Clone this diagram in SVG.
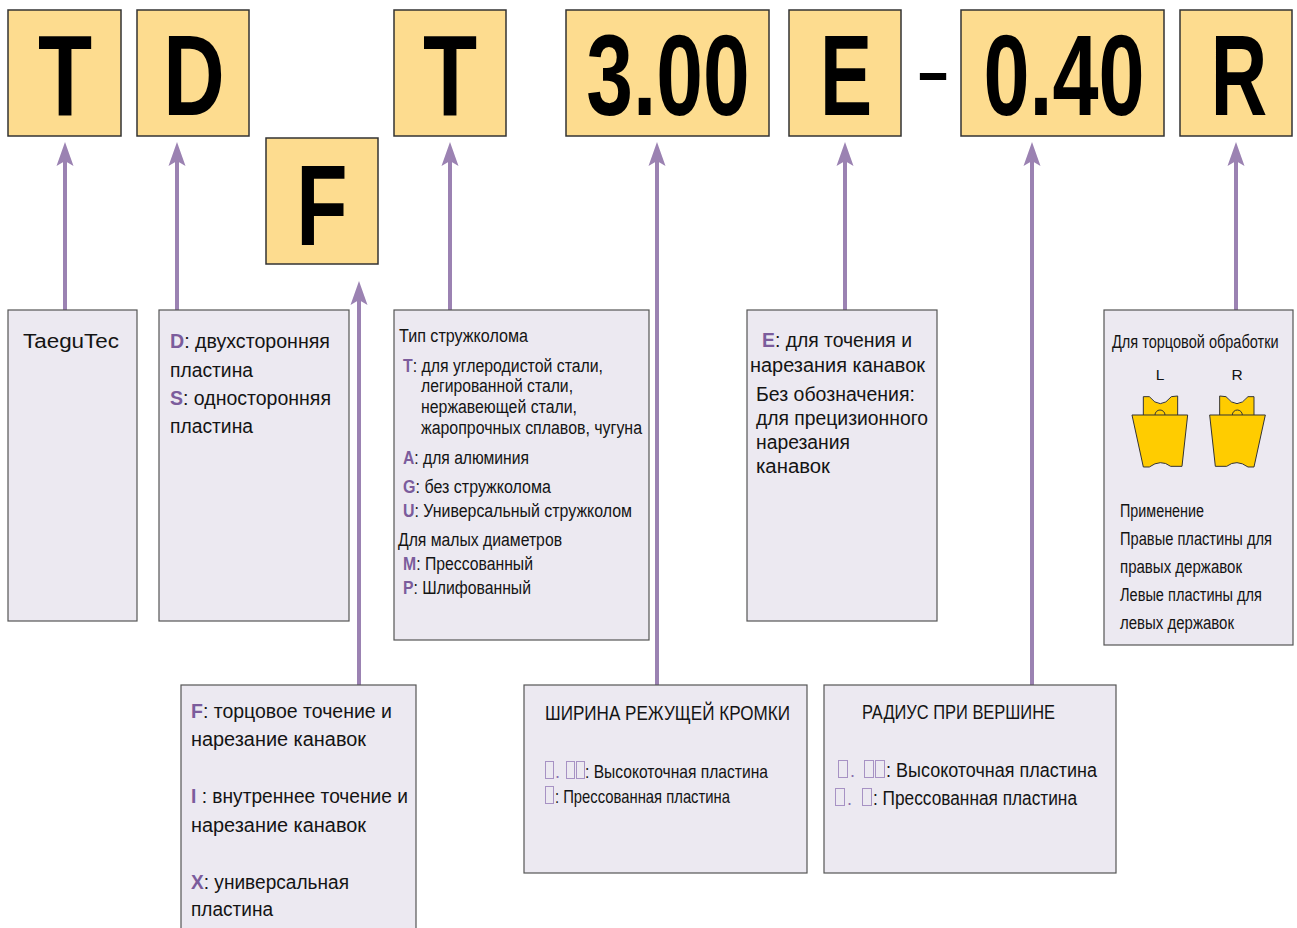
<svg xmlns="http://www.w3.org/2000/svg" width="1297" height="928" viewBox="0 0 1297 928">
<defs>
<style>
.top{fill:#fddc8f;stroke:#333;stroke-width:1.5}
.box{fill:#ece9f1;stroke:#555;stroke-width:1.2}
.big{font-family:"Liberation Sans",Arial,sans-serif;font-weight:bold;font-size:115px;fill:#000}
.t{font-family:"Liberation Sans",Arial,sans-serif;font-size:20px;fill:#141414}
.c{font-family:"Liberation Sans",Arial,sans-serif;font-size:18px;fill:#141414}
.k{fill:#7b5c9c;font-weight:bold}
.kd{fill:#8a6fae}
.tofu{fill:none;stroke:#a792c4;stroke-width:1}
.arr{stroke:#9b82b2;stroke-width:4;fill:none;marker-end:url(#ah)}
.ins{fill:#ffcc00;stroke:#333;stroke-width:3}
</style>
<marker id="ah" markerUnits="userSpaceOnUse" markerWidth="26" markerHeight="20" viewBox="0 0 26 20" refX="16" refY="10" orient="auto">
<path d="M0,1.5 L24,10 L0,18.5 L5,10 Z" fill="#9b82b2"/>
</marker>
</defs>
<rect width="1297" height="928" fill="#fff"/>

<g id="connectors">
<line class="arr" x1="65" y1="310" x2="65" y2="150"/>
<line class="arr" x1="177" y1="310" x2="177" y2="150"/>
<line class="arr" x1="359" y1="685" x2="359" y2="289"/>
<line class="arr" x1="450" y1="310" x2="450" y2="150"/>
<line class="arr" x1="657" y1="685" x2="657" y2="150"/>
<line class="arr" x1="845" y1="310" x2="845" y2="150"/>
<line class="arr" x1="1032" y1="685" x2="1032" y2="150"/>
<line class="arr" x1="1236" y1="310" x2="1236" y2="150"/>
</g>

<g id="code-T">
<rect class="top" x="8" y="10" width="113" height="126"/>
<text class="big" text-anchor="middle" transform="translate(65,115) scale(0.77,1)">T</text>
</g>
<g id="code-D">
<rect class="top" x="137" y="10" width="112" height="126"/>
<text class="big" text-anchor="middle" transform="translate(194,115) scale(0.74,1)">D</text>
</g>
<g id="code-F">
<rect class="top" x="266" y="138" width="112" height="126"/>
<text class="big" text-anchor="middle" transform="translate(322,245) scale(0.73,1)">F</text>
</g>
<g id="code-T2">
<rect class="top" x="394" y="10" width="112" height="126"/>
<text class="big" text-anchor="middle" transform="translate(450,115) scale(0.77,1)">T</text>
</g>
<g id="code-300">
<rect class="top" x="566" y="10" width="203" height="126"/>
<text class="big" text-anchor="middle" transform="translate(668,115) scale(0.73,1)">3.00</text>
</g>
<g id="code-E">
<rect class="top" x="789" y="10" width="112" height="126"/>
<text class="big" text-anchor="middle" transform="translate(846,115) scale(0.68,1)">E</text>
</g>
<g id="dash">
<text class="big" text-anchor="middle" style="font-size:70px" transform="translate(933,95) scale(0.76,1)">–</text>
</g>
<g id="code-040">
<rect class="top" x="961" y="10" width="203" height="126"/>
<text class="big" text-anchor="middle" transform="translate(1064,115) scale(0.72,1)">0.40</text>
</g>
<g id="code-R">
<rect class="top" x="1180" y="10" width="112" height="126"/>
<text class="big" text-anchor="middle" transform="translate(1239,115) scale(0.68,1)">R</text>
</g>

<g id="box-brand">
<rect class="box" x="8" y="310" width="129" height="311"/>
<text class="t" x="23" y="348" textLength="96" lengthAdjust="spacingAndGlyphs">TaeguTec</text>
</g>

<g id="box-D">
<rect class="box" x="159" y="310" width="190" height="311"/>
<text class="t" x="170" y="348" textLength="160" lengthAdjust="spacingAndGlyphs"><tspan class="k">D</tspan>: двухсторонняя</text>
<text class="t" x="170" y="377" textLength="83" lengthAdjust="spacingAndGlyphs">пластина</text>
<text class="t" x="170" y="405" textLength="161" lengthAdjust="spacingAndGlyphs"><tspan class="k">S</tspan>: односторонняя</text>
<text class="t" x="170" y="433" textLength="83" lengthAdjust="spacingAndGlyphs">пластина</text>
</g>

<g id="box-chip">
<rect class="box" x="394" y="310" width="255" height="330"/>
<text class="c" x="399" y="342" textLength="129" lengthAdjust="spacingAndGlyphs">Тип стружколома</text>
<text class="c" x="403" y="372" textLength="200" lengthAdjust="spacingAndGlyphs"><tspan class="k">T</tspan>: для углеродистой стали,</text>
<text class="c" x="421" y="392" textLength="152" lengthAdjust="spacingAndGlyphs">легированной стали,</text>
<text class="c" x="421" y="413" textLength="156" lengthAdjust="spacingAndGlyphs">нержавеющей стали,</text>
<text class="c" x="421" y="434" textLength="221" lengthAdjust="spacingAndGlyphs">жаропрочных сплавов, чугуна</text>
<text class="c" x="403" y="464" textLength="126" lengthAdjust="spacingAndGlyphs"><tspan class="k">A</tspan>: для алюминия</text>
<text class="c" x="403" y="493" textLength="148" lengthAdjust="spacingAndGlyphs"><tspan class="k">G</tspan>: без стружколома</text>
<text class="c" x="403" y="517" textLength="229" lengthAdjust="spacingAndGlyphs"><tspan class="k">U</tspan>: Универсальный стружколом</text>
<text class="c" x="398" y="546" textLength="164" lengthAdjust="spacingAndGlyphs">Для малых диаметров</text>
<text class="c" x="403" y="570" textLength="130" lengthAdjust="spacingAndGlyphs"><tspan class="k">M</tspan>: Прессованный</text>
<text class="c" x="403" y="594" textLength="128" lengthAdjust="spacingAndGlyphs"><tspan class="k">P</tspan>: Шлифованный</text>
</g>

<g id="box-E">
<rect class="box" x="747" y="310" width="190" height="311"/>
<text class="t" x="762" y="347" textLength="150" lengthAdjust="spacingAndGlyphs"><tspan class="k">E</tspan>: для точения и</text>
<text class="t" x="750" y="372" textLength="175" lengthAdjust="spacingAndGlyphs">нарезания канавок</text>
<text class="t" x="756" y="401" textLength="159" lengthAdjust="spacingAndGlyphs">Без обозначения:</text>
<text class="t" x="756" y="425" textLength="172" lengthAdjust="spacingAndGlyphs">для прецизионного</text>
<text class="t" x="756" y="449" textLength="94" lengthAdjust="spacingAndGlyphs">нарезания</text>
<text class="t" x="756" y="473" textLength="74" lengthAdjust="spacingAndGlyphs">канавок</text>
</g>

<g id="box-R">
<rect class="box" x="1104" y="310" width="189" height="335"/>
<text class="c" style="font-size:19px" transform="translate(1112,348) scale(0.765,1)">Для торцовой обработки</text>
<text class="c" x="1160" y="380" text-anchor="middle" style="font-size:15.5px">L</text>
<text class="c" x="1237" y="380" text-anchor="middle" style="font-size:15.5px">R</text>
<g transform="translate(1100,320) scale(0.33333)">
<path class="ins" d="M130,292 L130,230 L148,230 Q181,272 214,230 L233,228 L233,292 Z"/>
<path class="ins" d="M96,285 L263,285 L246,439 L212,439 Q182,416 148,441 L130,441 Z"/>
<path d="M165,285 A15,15 0 0 1 195,285" fill="none" stroke="#333" stroke-width="3"/>
</g>
<g transform="translate(1100,320) scale(0.33333) translate(592,0) scale(-1,1)">
<path class="ins" d="M130,292 L130,230 L148,230 Q181,272 214,230 L233,228 L233,292 Z"/>
<path class="ins" d="M96,285 L263,285 L246,439 L212,439 Q182,416 148,441 L130,441 Z"/>
<path d="M165,285 A15,15 0 0 1 195,285" fill="none" stroke="#333" stroke-width="3"/>
</g>
<text class="c" x="1120" y="517" textLength="84" lengthAdjust="spacingAndGlyphs">Применение</text>
<text class="c" transform="translate(1120,545) scale(0.815,1)">Правые пластины для</text>
<text class="c" x="1120" y="573" textLength="122" lengthAdjust="spacingAndGlyphs">правых державок</text>
<text class="c" x="1120" y="601" textLength="142" lengthAdjust="spacingAndGlyphs">Левые пластины для</text>
<text class="c" x="1120" y="629" textLength="114" lengthAdjust="spacingAndGlyphs">левых державок</text>
</g>

<g id="box-F">
<rect class="box" x="181" y="685" width="235" height="250"/>
<text class="t" x="191" y="718" textLength="201" lengthAdjust="spacingAndGlyphs"><tspan class="k">F</tspan>: торцовое точение и</text>
<text class="t" x="191" y="746" textLength="175" lengthAdjust="spacingAndGlyphs">нарезание канавок</text>
<text class="t" x="191" y="803" textLength="217" lengthAdjust="spacingAndGlyphs"><tspan class="k">I</tspan> : внутреннее точение и</text>
<text class="t" x="191" y="832" textLength="175" lengthAdjust="spacingAndGlyphs">нарезание канавок</text>
<text class="t" x="191" y="889" textLength="158" lengthAdjust="spacingAndGlyphs"><tspan class="k">X</tspan>: универсальная</text>
<text class="t" x="191" y="916" textLength="82" lengthAdjust="spacingAndGlyphs">пластина</text>
</g>

<g id="box-width">
<rect class="box" x="524" y="685" width="283" height="188"/>
<text class="c" x="545" y="720" style="font-size:21px" textLength="245" lengthAdjust="spacingAndGlyphs">ШИРИНА РЕЖУЩЕЙ КРОМКИ</text>
<rect class="tofu" x="545.5" y="761.5" width="8" height="17"/>
<text class="c kd" x="555" y="778">.</text>
<rect class="tofu" x="566.5" y="761.5" width="8" height="17"/>
<rect class="tofu" x="576.5" y="761.5" width="8" height="17"/>
<text class="c" x="585" y="778" style="font-size:19px" textLength="183" lengthAdjust="spacingAndGlyphs">: Высокоточная пластина</text>
<rect class="tofu" x="545.5" y="786.5" width="8" height="17"/>
<text class="c" x="555" y="803" style="font-size:19px" textLength="175" lengthAdjust="spacingAndGlyphs">: Прессованная пластина</text>
</g>

<g id="box-radius">
<rect class="box" x="824" y="685" width="292" height="188"/>
<text class="c" x="862" y="719" style="font-size:21px" textLength="193" lengthAdjust="spacingAndGlyphs">РАДИУС ПРИ ВЕРШИНЕ</text>
<rect class="tofu" x="838.5" y="760.5" width="9" height="17"/>
<text class="c kd" x="850" y="777">.</text>
<rect class="tofu" x="864.5" y="760.5" width="9" height="17"/>
<rect class="tofu" x="875.5" y="760.5" width="9" height="17"/>
<text class="c" x="886" y="777" style="font-size:20px" textLength="211" lengthAdjust="spacingAndGlyphs">: Высокоточная пластина</text>
<rect class="tofu" x="835.5" y="788.5" width="9" height="17"/>
<text class="c kd" x="847" y="805">.</text>
<rect class="tofu" x="862.5" y="788.5" width="9" height="17"/>
<text class="c" x="873" y="805" style="font-size:20px" textLength="204" lengthAdjust="spacingAndGlyphs">: Прессованная пластина</text>
</g>
</svg>
